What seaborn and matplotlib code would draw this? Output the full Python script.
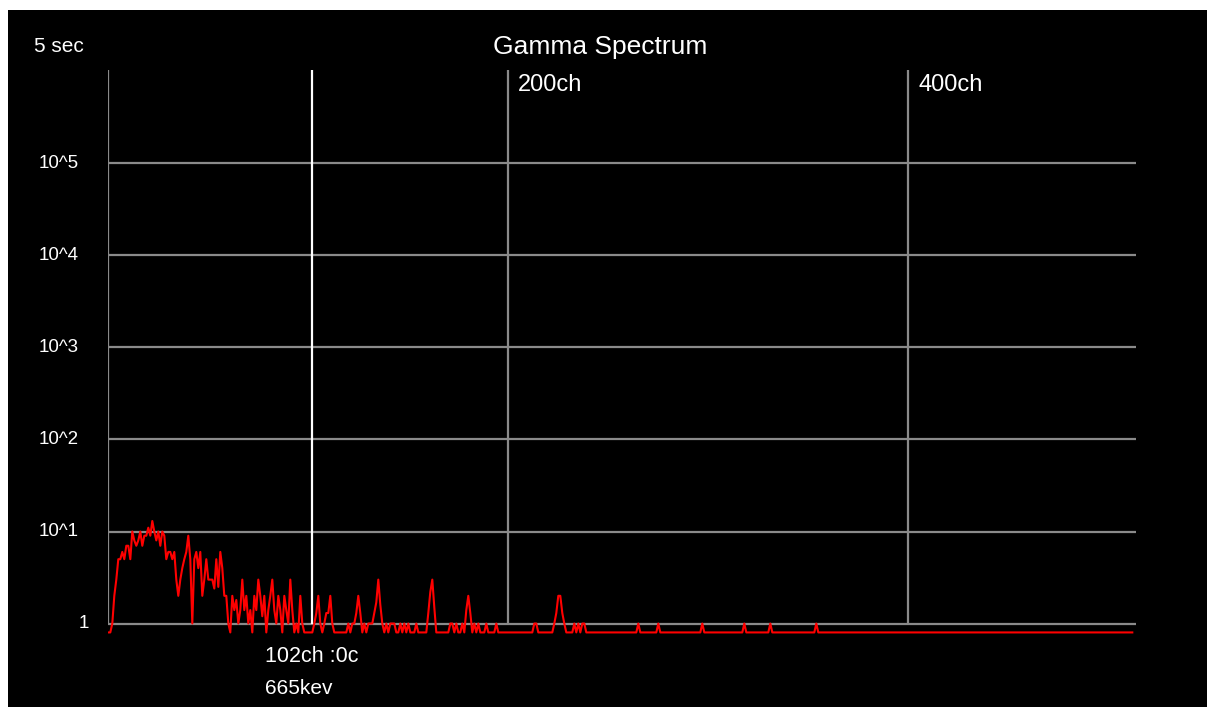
import numpy as np
import pandas as pd
import matplotlib
matplotlib.use("Agg")
import matplotlib.pyplot as plt
import seaborn as sns
from matplotlib.patches import Rectangle
from matplotlib.transforms import blended_transform_factory

# ---------------- data ----------------
title_text = "Gamma Spectrum"
acquisition_label = "5 sec"
n_channels = 513
# counts for channels 0..95
low_channel_counts = [0, 0, 1, 2, 3, 5, 5, 6, 5, 7, 7, 5, 10, 8, 7, 8, 10, 7, 9, 9,
                      11, 9, 13, 10, 8, 10, 7, 10, 9, 5, 6, 6, 5, 6, 3, 2, 3, 4, 5, 6,
                      9, 5, 1, 5, 6, 4, 6, 2,
                      3, 5, 3, 3, 3, 2.4, 5, 2.5, 6, 4, 2, 2, 1, 0, 2, 1.4, 1.8, 1,
                      1.4, 3, 1.4, 2, 1, 1.4, 0, 2, 1.4, 3, 2, 1.2, 2, 0, 1.4, 2, 3,
                      1.4, 1, 2, 1.4, 0, 2, 1.4, 1, 3, 1.4, 0, 1, 0]
# sparse non-zero counts above channel 95
sparse_channels = [96, 97, 103, 104, 105, 106, 108, 109, 110, 111, 112, 120, 122, 123,
                   124, 125, 126, 128, 130, 131, 132, 133, 134, 135, 136, 137, 139, 141,
                   142, 143, 146, 148, 150, 154, 160, 161, 162, 163, 171, 172, 174, 177,
                   179, 180, 181, 183, 185, 189, 194, 213, 214, 223, 224, 225, 226, 227,
                   228, 233, 235, 237, 238, 265, 275, 297, 318, 331, 354]
sparse_counts = [2, 1, 1, 1.3, 2, 1, 1, 1.3, 1.3, 2, 1, 1, 1, 1,
                 1.3, 2, 1.3, 1, 1, 1, 1, 1.3, 1.7, 3, 1.6, 1, 1, 1,
                 1, 1, 1, 1, 1, 1, 1.3, 2.2, 3, 1.5, 1, 1, 1, 1,
                 1.4, 2, 1.3, 1, 1, 1, 1, 1, 1, 1, 1.3, 2, 2, 1.3,
                 1, 1, 1, 1, 1, 1, 1, 1, 1, 1, 1]
decade_values = [1, 10, 100, 1000, 10000, 100000]
decade_labels = ["1", "10^1", "10^2", "10^3", "10^4", "10^5"]
channel_grid = [0, 200, 400]
channel_grid_labels = ["", "200ch", "400ch"]
cursor_channel = 102
cursor_label = "102ch :0c"
cursor_energy_label = "665kev"
zero_floor = 0.8

# ---------------- build ----------------
counts = np.zeros(n_channels)
counts[:len(low_channel_counts)] = low_channel_counts
counts[sparse_channels] = sparse_counts
df = pd.DataFrame({"channel": np.arange(n_channels),
                   "counts": np.where(counts > 0, counts, zero_floor)})

W, H = 1207, 707
fig = plt.figure(figsize=(W / 100, H / 100), dpi=100, facecolor="white")
fig.add_artist(Rectangle((8 / W, 0), 1 - 8 / W, 1 - 10 / H, transform=fig.transFigure,
                         facecolor="black", edgecolor="none", zorder=0))

ax_left, ax_right, ax_top, ax_bottom = 108.3, 1136, 70, 634
ax = fig.add_axes([ax_left / W, 1 - ax_bottom / H, (ax_right - ax_left) / W,
                   (ax_bottom - ax_top) / H])
ax.set_facecolor("black")
ax.set_yscale("log")
ymax = 10 ** 6.016
ymin = 10 ** (-0.114)
xmax = (ax_right - ax_left) / 2.0
ax.set_xlim(0, xmax)
ax.set_ylim(ymin, ymax)

grid_col = "#8a8a8a"
ax.hlines(decade_values, 0, xmax, colors=grid_col, linewidth=1.6, zorder=1)
ax.vlines(channel_grid, 1, ymax, colors=grid_col, linewidth=1.6, zorder=1)
ax.vlines([cursor_channel], 1, ymax, colors="white", linewidth=1.6, zorder=2)

sns.lineplot(data=df, x="channel", y="counts", color="#ff0000", linewidth=1.5,
             estimator=None, ax=ax, zorder=3)

for s in ax.spines.values():
    s.set_visible(False)
ax.set_xticks([])
ax.set_yticks([])
ax.minorticks_off()
ax.set_xlabel("")
ax.set_ylabel("")

fam = "Liberation Sans"
trans = blended_transform_factory(fig.transFigure, ax.transData)
for v, lab in zip(decade_values, decade_labels):
    xr = 89 if lab == "1" else 79
    ax.text(xr / W, v, lab, transform=trans, ha="right", va="center",
            family=fam, color="white", fontsize=13.5)

for c, lab in zip(channel_grid, channel_grid_labels):
    if lab:
        ax.text(c + 5, 10 ** 5.85, lab, ha="left", va="center",
                family=fam, color="white", fontsize=17)

fig.text(600 / W, 1 - 47 / H, title_text, ha="center", va="center",
         family=fam, color="white", fontsize=19)
fig.text(59 / W, 1 - 46 / H, acquisition_label, ha="center", va="center",
         family=fam, color="white", fontsize=15)
fig.text(265 / W, 1 - 657 / H, cursor_label, ha="left", va="center",
         family=fam, color="white", fontsize=15.5)
fig.text(265 / W, 1 - 688 / H, cursor_energy_label, ha="left", va="center",
         family=fam, color="white", fontsize=15)

fig.savefig("out.png", dpi=100, facecolor="white")
